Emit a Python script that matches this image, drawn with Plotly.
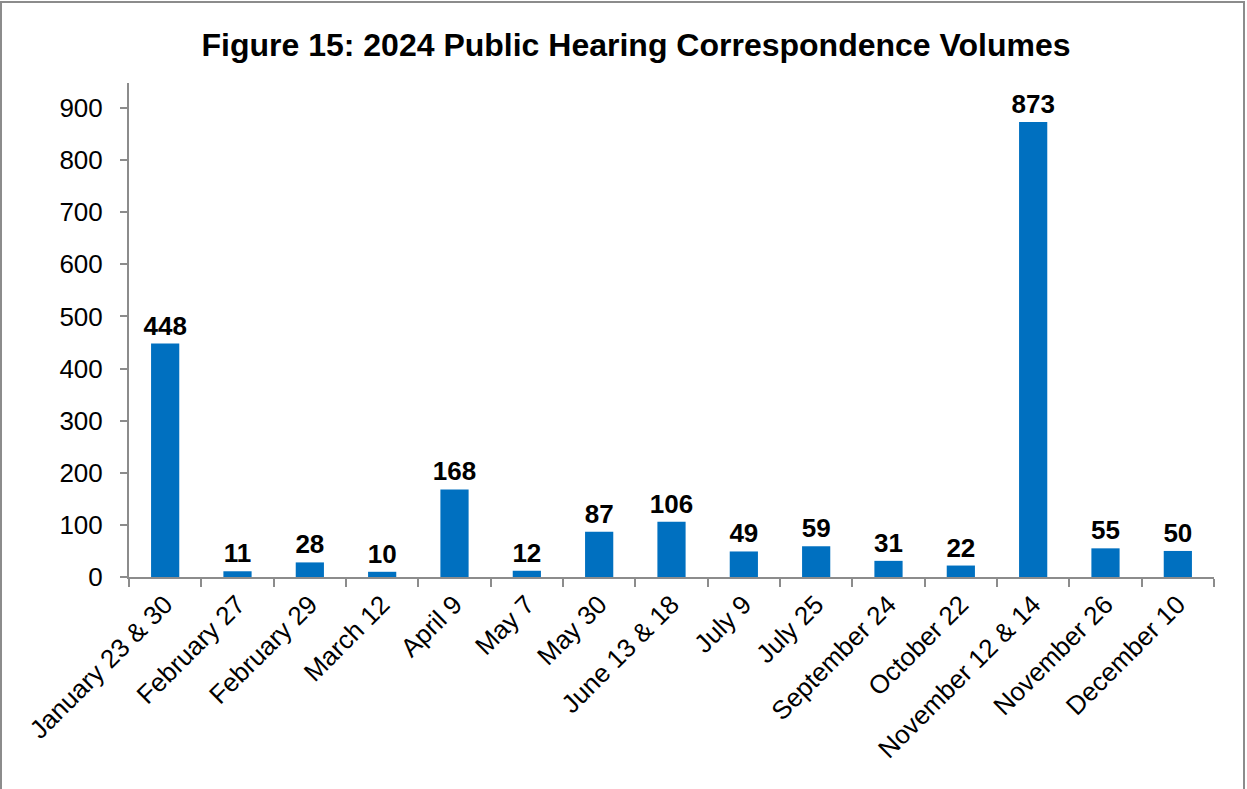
import plotly.graph_objects as go

# Hearing dates and correspondence counts
hearings = [
    "January 23 & 30", "February 27", "February 29", "March 12", "April 9",
    "May 7", "May 30", "June 13 & 18", "July 9", "July 25",
    "September 24", "October 22", "November 12 & 14", "November 26", "December 10",
]
volumes = [448, 11, 28, 10, 168, 12, 87, 106, 49, 59, 31, 22, 873, 55, 50]

FONT = "Liberation Sans, Arial, sans-serif"
AXIS_GREY = "#8c8c8c"

fig = go.Figure(
    go.Bar(
        x=hearings,
        y=volumes,
        width=0.39,
        marker=dict(color="#0070C0", line=dict(width=0)),
        text=[str(v) for v in volumes],
        textposition="outside",
        cliponaxis=False,
        textfont=dict(family=FONT, size=26, color="black", weight="bold"),
    )
)

fig.update_layout(
    width=1247,
    height=789,
    paper_bgcolor="white",
    plot_bgcolor="white",
    margin=dict(l=129, r=33, t=83, b=212),
    showlegend=False,
    uniformtext=dict(minsize=26, mode="show"),
    title=dict(
        text="<b>Figure 15: 2024 Public Hearing Correspondence Volumes</b>",
        font=dict(family=FONT, size=32, color="black"),
        x=636 / 1247,
        xanchor="center",
        xref="container",
        y=1 - 45 / 789,
        yanchor="middle",
    ),
    xaxis=dict(
        type="category",
        showline=True,
        linecolor=AXIS_GREY,
        linewidth=2,
        ticks="outside",
        tickson="boundaries",
        ticklen=8,
        tickwidth=2,
        tickcolor=AXIS_GREY,
        tickangle=-45,
        tickfont=dict(family=FONT, size=26, color="black"),
        showgrid=False,
    ),
    yaxis=dict(
        range=[0, 948],
        tickvals=[0, 100, 200, 300, 400, 500, 600, 700, 800, 900],
        showline=True,
        linecolor=AXIS_GREY,
        linewidth=2,
        ticks="outside",
        ticklen=7,
        tickwidth=2,
        tickcolor=AXIS_GREY,
        tickfont=dict(family=FONT, size=26, color="black"),
        ticklabelstandoff=12,
        showgrid=False,
        zeroline=False,
    ),
    shapes=[
        dict(
            type="rect",
            xref="paper", yref="paper",
            x0=-128 / 1085, x1=1 + 30 / 1085,
            y0=-0.6, y1=1 + 81 / 494,
            line=dict(color="#8c8c8c", width=2),
            fillcolor="rgba(0,0,0,0)",
            layer="below",
        )
    ],
)

fig.write_html("out.html")
